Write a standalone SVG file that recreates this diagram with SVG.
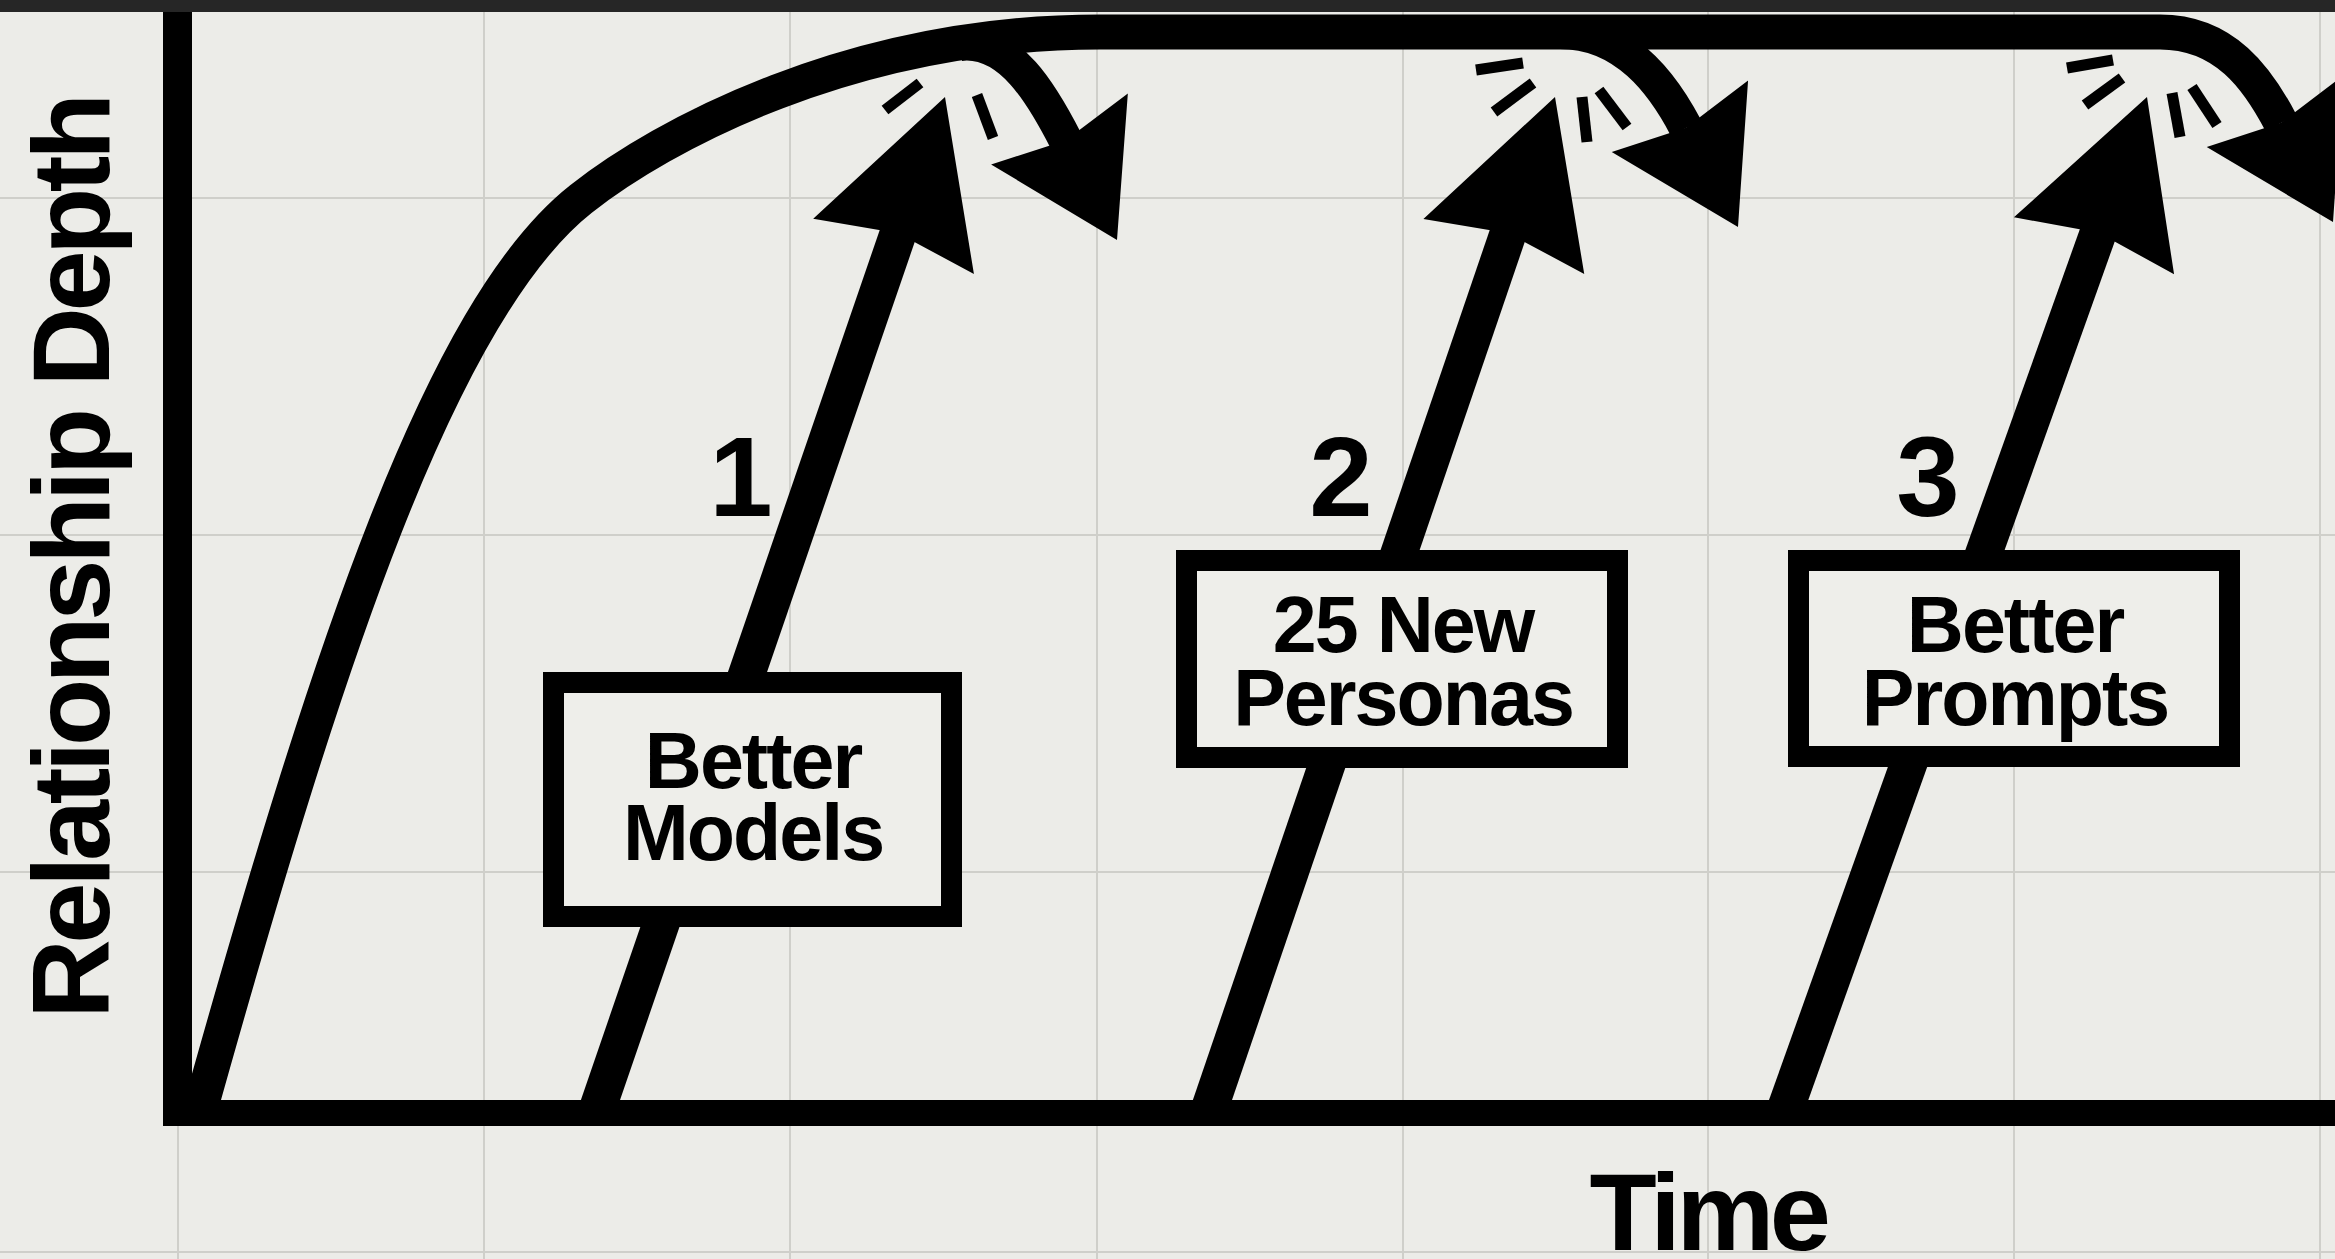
<svg xmlns="http://www.w3.org/2000/svg" width="2335" height="1259" viewBox="0 0 2335 1259">
<defs>
<style>
.grid line{stroke:#cfcfca;stroke-width:2}
.ink{fill:none;stroke:#000;stroke-linecap:butt;stroke-linejoin:miter}
.main{stroke-width:35}
.shaft{stroke-width:37}
.bounce{stroke-width:34}
.tick{stroke:#000;stroke-width:11;stroke-linecap:butt}
.box{fill:#eeeeea;stroke:#000;stroke-width:21}
.lbl{font-family:"Liberation Sans",Arial,Helvetica,sans-serif;font-weight:bold;fill:#000}
.boxtxt{font-size:79px;letter-spacing:-2px;text-anchor:middle}
.num{font-size:114px;text-anchor:middle}
.axislbl{font-size:110px;letter-spacing:-4.5px;text-anchor:middle}
</style>
<path id="headUp" d="M0,0 L-158,-85 L-144,0 L-158,85 Z"/>
<path id="headBounce" d="M0,0 L-125,-77 L-112,0 L-125,77 Z"/>
</defs>
<rect x="0" y="0" width="2335" height="1259" fill="#ecece8"/>
<g id="grid" class="grid">
<line x1="178" y1="0" x2="178" y2="1259"/>
<line x1="484" y1="0" x2="484" y2="1259"/>
<line x1="790" y1="0" x2="790" y2="1259"/>
<line x1="1097" y1="0" x2="1097" y2="1259"/>
<line x1="1403" y1="0" x2="1403" y2="1259"/>
<line x1="1708" y1="0" x2="1708" y2="1259"/>
<line x1="2014" y1="0" x2="2014" y2="1259"/>
<line x1="2320" y1="0" x2="2320" y2="1259"/>
<line x1="0" y1="198" x2="2335" y2="198"/>
<line x1="0" y1="535" x2="2335" y2="535"/>
<line x1="0" y1="872" x2="2335" y2="872"/>
<line x1="0" y1="1252" x2="2335" y2="1252"/>
</g>
<g id="axes">
<line class="ink" x1="177.5" y1="0" x2="177.5" y2="1126" stroke-width="29"/>
<line class="ink" x1="163" y1="1113" x2="2335" y2="1113" stroke-width="26"/>
</g>
<g id="connectors">
<path class="ink main" d="M 200 1110 C 326 660, 440 310, 581 199 C 661 136, 850 32, 1100 32 L 2160 32 C 2225 32, 2258 79, 2281 123"/>
<path class="ink bounce" d="M 960 44 C 1010 38, 1043 96, 1066 141"/>
<path class="ink bounce" d="M 1560 32 C 1625 32, 1663 84, 1686 128"/>
<use href="#headBounce" transform="translate(1117,240) rotate(62.6)"/>
<use href="#headBounce" transform="translate(1738,227) rotate(62.3)"/>
<use href="#headBounce" transform="translate(2333,222) rotate(62.3)"/>
<path class="ink shaft" d="M 596 1113 L 901 225"/>
<path class="ink shaft" d="M 1208 1113 L 1511 225"/>
<path class="ink shaft" d="M 1784 1113 L 2101 225"/>
<use href="#headUp" transform="translate(945,97) rotate(-71)"/>
<use href="#headUp" transform="translate(1555,97) rotate(-71.1)"/>
<use href="#headUp" transform="translate(2147,97) rotate(-70.4)"/>
<g id="ticks">
<line class="tick" x1="885" y1="110" x2="920" y2="83"/>
<line class="tick" x1="977" y1="95" x2="993" y2="138"/>
<line class="tick" x1="1476" y1="70" x2="1523" y2="63"/>
<line class="tick" x1="1494" y1="112" x2="1533" y2="83"/>
<line class="tick" x1="1582" y1="97" x2="1587" y2="142"/>
<line class="tick" x1="1599" y1="90" x2="1627" y2="127"/>
<line class="tick" x1="2067" y1="68" x2="2113" y2="60"/>
<line class="tick" x1="2085" y1="105" x2="2122" y2="78"/>
<line class="tick" x1="2172" y1="93" x2="2180" y2="137"/>
<line class="tick" x1="2192" y1="87" x2="2217" y2="125"/>
</g>
</g>
<g id="node-better-models">
<rect class="box" x="553.5" y="682.5" width="398" height="234"/>
<text class="lbl boxtxt" x="753" y="788">Better</text>
<text class="lbl boxtxt" x="753" y="860">Models</text>
</g>
<g id="node-25-new-personas">
<rect class="box" x="1186.5" y="560.5" width="431" height="197"/>
<text class="lbl boxtxt" x="1403" y="652">25 New</text>
<text class="lbl boxtxt" x="1403" y="725">Personas</text>
</g>
<g id="node-better-prompts">
<rect class="box" x="1798.5" y="560.5" width="431" height="196"/>
<text class="lbl boxtxt" x="2015" y="652">Better</text>
<text class="lbl boxtxt" x="2015" y="725">Prompts</text>
</g>
<g id="numbers">
<text class="lbl num" x="741" y="516">1</text>
<text class="lbl num" x="1341" y="516">2</text>
<text class="lbl num" x="1928" y="516">3</text>
</g>
<g id="axis-labels">
<text class="lbl axislbl" x="1708" y="1250">Time</text>
<text class="lbl axislbl" transform="translate(109,558) rotate(-90)">Relationship Depth</text>
</g>
<rect x="0" y="0" width="2335" height="12" fill="#262626"/>
</svg>
